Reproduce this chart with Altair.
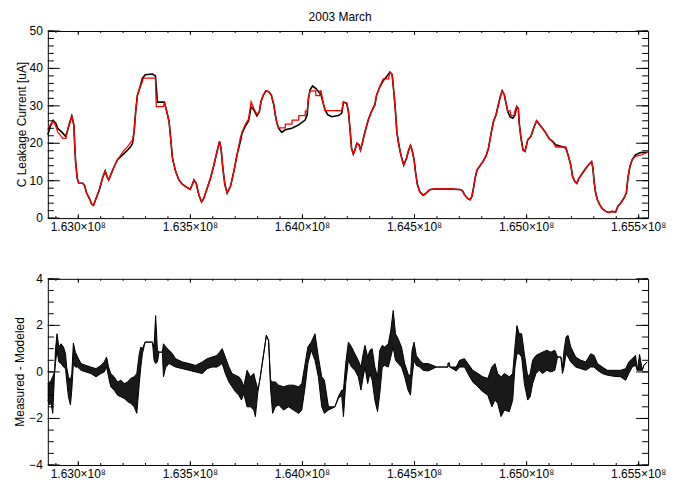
import altair as alt
import pandas as pd

# ---------------- data (time in units of 1e5 s) ----------------
meas_t = [1628.64, 1628.75, 1628.88, 1629.00, 1629.08, 1629.31, 1629.44, 1629.53, 1629.62, 1629.71,
          1629.80, 1629.84, 1629.88, 1629.95, 1630.02, 1630.20, 1630.28, 1630.37, 1630.49, 1630.60,
          1630.68, 1630.77, 1630.94, 1631.08, 1631.20, 1631.28, 1631.35, 1631.45, 1631.60, 1631.75,
          1631.90, 1632.05, 1632.20, 1632.34, 1632.42, 1632.49, 1632.56, 1632.64, 1632.74, 1632.86,
          1632.99, 1633.31, 1633.44, 1633.53, 1633.80, 1633.84, 1633.93, 1634.05, 1634.12, 1634.20,
          1634.34, 1634.49, 1634.64, 1634.79, 1634.99, 1635.08, 1635.16, 1635.26, 1635.38, 1635.50,
          1635.60, 1635.75, 1635.90, 1636.05, 1636.19, 1636.30, 1636.37, 1636.45, 1636.54, 1636.64,
          1636.79, 1636.94, 1637.08, 1637.23, 1637.31, 1637.45, 1637.60, 1637.71, 1637.83, 1637.97,
          1638.08, 1638.15, 1638.24, 1638.37, 1638.49, 1638.61, 1638.72, 1638.79, 1638.86, 1638.94,
          1639.08, 1639.23, 1639.53, 1639.83, 1640.12, 1640.21, 1640.27, 1640.34, 1640.45, 1640.59,
          1640.71, 1640.83, 1640.91, 1641.01, 1641.13, 1641.31, 1641.60, 1641.75, 1641.83, 1641.97,
          1642.05, 1642.12, 1642.19, 1642.27, 1642.34, 1642.43, 1642.52, 1642.59, 1642.67, 1642.79,
          1642.94, 1643.08, 1643.23, 1643.31, 1643.45, 1643.60, 1643.75, 1643.90, 1644.00, 1644.09,
          1644.15, 1644.21, 1644.30, 1644.39, 1644.52, 1644.64, 1644.74, 1644.82, 1644.89, 1644.98,
          1645.05, 1645.13, 1645.23, 1645.38, 1645.53, 1645.67, 1645.90, 1646.19, 1646.64, 1647.08,
          1647.16, 1647.23, 1647.38, 1647.48, 1647.56, 1647.63, 1647.71, 1647.79, 1647.90, 1648.05,
          1648.19, 1648.30, 1648.42, 1648.52, 1648.64, 1648.74, 1648.83, 1648.91, 1649.01, 1649.08,
          1649.16, 1649.26, 1649.38, 1649.48, 1649.56, 1649.63, 1649.67, 1649.75, 1649.84, 1649.93,
          1650.05, 1650.19, 1650.34, 1650.45, 1650.56, 1650.71, 1650.86, 1651.01, 1651.16, 1651.30,
          1651.60, 1651.75, 1651.85, 1651.97, 1652.05, 1652.15, 1652.24, 1652.34, 1652.49, 1652.64,
          1652.79, 1652.90, 1652.96, 1653.01, 1653.08, 1653.16, 1653.26, 1653.38, 1653.53, 1653.67,
          1653.82, 1653.97, 1654.07, 1654.19, 1654.34, 1654.45, 1654.52, 1654.61, 1654.71, 1654.86,
          1655.08, 1655.41]
meas_v = [22.3, 24.5, 26.1, 25.3, 24.0, 22.7, 21.8, 23.6, 25.6, 27.3,
          24.9, 19.6, 15.1, 10.7, 9.3, 9.3, 8.7, 6.7, 5.3, 3.7,
          3.4, 4.9, 7.6, 10.7, 12.6, 11.1, 10.2, 11.6, 13.8, 15.6,
          16.5, 17.3, 18.2, 19.1, 20.0, 23.1, 28.5, 32.9, 34.7, 37.4,
          38.3, 38.5, 38.0, 31.0, 31.0, 31.0, 28.9, 25.8, 21.4, 16.0,
          12.5, 10.2, 9.1, 8.4, 7.7, 8.9, 10.2, 9.3, 6.2, 4.3,
          5.3, 8.0, 10.7, 14.2, 17.8, 20.5, 18.5, 13.3, 8.9, 6.7,
          8.5, 12.5, 16.9, 20.5, 22.8, 24.5, 26.0, 29.8, 28.9, 27.3,
          28.5, 31.1, 32.7, 34.0, 33.8, 32.9, 30.3, 27.6, 25.4, 24.0,
          22.9, 23.6, 24.0, 24.9, 26.2, 27.6, 32.0, 34.3, 35.3, 34.7,
          33.8, 32.9, 31.1, 28.9, 27.6, 27.1, 27.4, 28.0, 31.0, 30.7,
          28.5, 24.0, 18.7, 17.1, 18.2, 20.0, 19.6, 18.2, 20.0, 23.1,
          26.3, 28.5, 30.3, 32.9, 35.1, 36.7, 37.8, 39.0, 38.4, 32.9,
          28.5, 23.1, 19.6, 16.9, 14.2, 16.0, 18.2, 19.4, 18.2, 15.6,
          12.0, 8.9, 7.1, 6.1, 6.7, 7.6, 7.8, 7.8, 7.8, 7.6,
          7.1, 6.2, 5.2, 4.9, 5.8, 8.0, 10.9, 12.9, 13.8, 15.1,
          16.6, 18.7, 22.7, 25.8, 27.7, 30.3, 32.5, 34.0, 32.9, 30.7,
          28.5, 27.1, 26.7, 27.5, 29.8, 29.3, 25.4, 21.4, 18.2, 17.8,
          20.9, 21.8, 24.5, 26.0, 25.1, 24.0, 22.7, 21.2, 20.5, 19.6,
          19.1, 18.7, 16.9, 14.2, 11.1, 9.8, 9.3, 10.7, 12.0, 13.3,
          14.4, 15.1, 13.3, 9.8, 6.7, 4.9, 3.6, 2.5, 1.8, 1.5,
          1.8, 1.6, 3.1, 4.0, 5.3, 6.7, 10.7, 13.8, 15.6, 16.9,
          17.5, 17.6]

model_t = [1628.64, 1628.75, 1628.88, 1629.00, 1629.08, 1629.31, 1629.44, 1629.53, 1629.62, 1629.71,
           1629.80, 1629.84, 1629.88, 1629.95, 1630.02, 1630.20, 1630.28, 1630.37, 1630.49, 1630.60,
           1630.68, 1630.77, 1630.94, 1631.08, 1631.20, 1631.28, 1631.35, 1631.45, 1631.60, 1631.75,
           1631.90, 1632.05, 1632.20, 1632.34, 1632.42, 1632.49, 1632.56, 1632.64, 1632.74, 1632.86,
           1632.90, 1633.44, 1633.48, 1633.80, 1633.84, 1633.93, 1634.05, 1634.12, 1634.20, 1634.34,
           1634.49, 1634.64, 1634.79, 1634.99, 1635.08, 1635.16, 1635.26, 1635.38, 1635.50, 1635.60,
           1635.75, 1635.90, 1636.05, 1636.19, 1636.30, 1636.37, 1636.45, 1636.54, 1636.64, 1636.79,
           1636.94, 1637.08, 1637.23, 1637.31, 1637.45, 1637.60, 1637.71, 1637.83, 1637.97, 1638.08,
           1638.15, 1638.24, 1638.37, 1638.49, 1638.61, 1638.72, 1638.79, 1638.86, 1638.94, 1639.23,
           1639.24, 1639.53, 1639.54, 1639.83, 1639.84, 1640.12, 1640.13, 1640.21, 1640.27, 1640.34,
           1640.59, 1640.60, 1640.77, 1640.78, 1640.83, 1640.91, 1641.01, 1641.75, 1641.83, 1641.97,
           1642.05, 1642.12, 1642.19, 1642.27, 1642.34, 1642.43, 1642.52, 1642.59, 1642.67, 1642.79,
           1642.94, 1643.08, 1643.23, 1643.31, 1643.45, 1643.60, 1643.84, 1643.90, 1644.00, 1644.09,
           1644.15, 1644.21, 1644.30, 1644.39, 1644.52, 1644.64, 1644.74, 1644.82, 1644.89, 1644.98,
           1645.05, 1645.13, 1645.23, 1645.38, 1645.53, 1645.67, 1645.90, 1646.19, 1646.64, 1647.08,
           1647.16, 1647.23, 1647.38, 1647.48, 1647.56, 1647.63, 1647.71, 1647.79, 1647.90, 1648.05,
           1648.19, 1648.30, 1648.42, 1648.52, 1648.64, 1648.74, 1648.83, 1648.91, 1649.01, 1649.08,
           1649.16, 1649.26, 1649.30, 1649.44, 1649.48, 1649.56, 1649.63, 1649.67, 1649.75, 1649.84,
           1649.93, 1650.05, 1650.19, 1650.34, 1650.45, 1650.56, 1650.71, 1650.86, 1651.01, 1651.16,
           1651.30, 1651.75, 1651.85, 1651.97, 1652.05, 1652.15, 1652.24, 1652.34, 1652.49, 1652.64,
           1652.79, 1652.90, 1652.96, 1653.01, 1653.08, 1653.16, 1653.26, 1653.38, 1653.53, 1653.67,
           1653.82, 1653.97, 1654.07, 1654.19, 1654.34, 1654.45, 1654.52, 1654.61, 1654.71, 1654.86,
           1655.08, 1655.41]
model_v = [23.5, 25.0, 26.0, 24.5, 23.0, 21.3, 21.3, 23.7, 25.3, 27.3,
           24.9, 19.6, 15.1, 10.7, 9.3, 9.3, 8.7, 6.7, 5.3, 3.7,
           3.4, 4.9, 7.6, 10.7, 12.6, 11.1, 10.2, 11.6, 13.8, 15.6,
           16.9, 18.2, 19.1, 20.3, 20.8, 23.1, 28.5, 32.9, 34.7, 36.5,
           37.4, 37.4, 29.8, 29.8, 31.0, 28.9, 25.8, 21.4, 16.0, 12.5,
           10.2, 9.1, 8.4, 7.7, 8.9, 10.2, 9.3, 6.2, 4.3, 5.3,
           8.0, 10.7, 14.2, 17.8, 20.5, 18.5, 13.3, 8.9, 6.7, 8.5,
           12.5, 16.9, 21.4, 23.1, 25.0, 26.5, 31.1, 29.3, 27.7, 28.5,
           31.1, 32.7, 34.0, 33.8, 32.9, 30.3, 27.6, 25.4, 24.1, 24.1,
           25.1, 25.1, 26.2, 26.2, 27.4, 27.4, 28.6, 28.6, 32.0, 34.0,
           34.0, 32.7, 32.7, 34.0, 34.0, 31.1, 28.7, 28.7, 31.0, 30.7,
           28.5, 24.0, 18.7, 17.1, 18.2, 20.0, 19.6, 18.2, 20.0, 23.1,
           26.3, 28.5, 30.3, 32.9, 35.1, 37.2, 37.2, 39.0, 38.4, 32.9,
           28.5, 23.1, 19.6, 16.9, 14.2, 16.0, 18.2, 19.4, 18.2, 15.6,
           12.0, 8.9, 7.1, 6.1, 6.7, 7.6, 7.8, 7.8, 7.8, 7.6,
           7.1, 6.2, 5.2, 4.9, 5.8, 8.0, 10.9, 12.9, 13.8, 15.1,
           16.6, 18.7, 22.7, 25.8, 27.7, 30.3, 32.5, 34.0, 32.9, 30.7,
           28.5, 28.7, 27.4, 27.4, 28.7, 29.8, 29.3, 25.4, 21.4, 18.2,
           17.8, 20.9, 21.8, 24.5, 26.0, 25.1, 24.0, 22.7, 21.2, 20.5,
           19.0, 19.0, 16.9, 14.2, 11.1, 9.8, 9.3, 10.7, 12.0, 13.3,
           14.4, 15.1, 13.3, 9.8, 6.7, 4.9, 3.6, 2.5, 1.8, 1.5,
           1.8, 1.6, 3.1, 4.0, 5.3, 6.7, 10.7, 13.8, 15.6, 16.5,
           16.8, 17.6]

res_t = [1628.64, 1628.72, 1628.79, 1628.86, 1628.94, 1628.98, 1629.05, 1629.13, 1629.23, 1629.34,
         1629.43, 1629.48, 1629.56, 1629.65, 1629.71, 1629.78, 1629.87, 1629.97, 1630.12, 1630.34,
         1630.56, 1630.79, 1631.01, 1631.16, 1631.26, 1631.35, 1631.45, 1631.60, 1631.75, 1631.90,
         1632.05, 1632.20, 1632.34, 1632.49, 1632.61, 1632.72, 1632.79, 1632.86, 1632.98, 1633.31,
         1633.38, 1633.45, 1633.53, 1633.60, 1633.75, 1633.80, 1633.90, 1634.05, 1634.20, 1634.34,
         1634.64, 1634.94, 1635.23, 1635.53, 1635.75, 1635.97, 1636.19, 1636.42, 1636.56, 1636.72,
         1636.86, 1637.01, 1637.16, 1637.28, 1637.38, 1637.53, 1637.68, 1637.83, 1637.90, 1638.02,
         1638.12, 1638.27, 1638.39, 1638.49, 1638.58, 1638.67, 1638.79, 1638.94, 1639.16, 1639.38,
         1639.60, 1639.83, 1639.97, 1640.12, 1640.24, 1640.39, 1640.56, 1640.71, 1640.86, 1640.98,
         1641.16, 1641.45, 1641.60, 1641.75, 1641.83, 1641.93, 1642.05, 1642.19, 1642.34, 1642.49,
         1642.61, 1642.71, 1642.79, 1642.91, 1643.01, 1643.11, 1643.23, 1643.35, 1643.45, 1643.56,
         1643.67, 1643.83, 1643.94, 1644.05, 1644.15, 1644.27, 1644.42, 1644.56, 1644.71, 1644.82,
         1644.89, 1644.98, 1645.08, 1645.23, 1645.38, 1645.60, 1645.83, 1645.97, 1646.49, 1646.50,
         1646.56, 1646.57, 1646.86, 1647.01, 1647.23, 1647.38, 1647.60, 1647.83, 1648.05, 1648.27,
         1648.45, 1648.59, 1648.71, 1648.86, 1649.01, 1649.23, 1649.38, 1649.48, 1649.57, 1649.67,
         1649.78, 1649.90, 1650.05, 1650.16, 1650.27, 1650.42, 1650.56, 1650.71, 1650.90, 1651.08,
         1651.26, 1651.38, 1651.53, 1651.60, 1651.67, 1651.76, 1651.85, 1651.97, 1652.19, 1652.42,
         1652.64, 1652.86, 1653.01, 1653.16, 1653.38, 1653.60, 1653.90, 1654.19, 1654.42, 1654.56,
         1654.71, 1654.86, 1654.94, 1655.04, 1655.16, 1655.23, 1655.38]
res_hi = [-0.50, -0.43, -0.36, -0.20, 0.00, 0.93, 1.64, 1.07, 1.21, 1.07,
          0.78, 0.21, -0.21, -0.36, -0.07, 1.24, 0.85, 0.64, 0.36, 0.28,
          0.21, 0.14, 0.28, 0.43, 0.64, 0.21, -0.07, -0.21, -0.43, -0.36,
          -0.50, -0.43, -0.28, -0.21, -0.07, 0.78, 1.07, 1.00, 1.28, 1.28,
          1.07, 2.42, 0.93, 0.85, 0.85, 1.21, 1.07, 0.93, 0.78, 0.57,
          0.43, 0.36, 0.28, 0.43, 0.57, 0.64, 0.71, 1.00, 0.64, 0.21,
          -0.07, -0.14, -0.21, -0.36, -0.64, 0.07, -0.21, -0.07, -0.36, -0.78,
          -0.21, 0.78, 1.57, 1.35, -0.36, -0.43, -0.43, -0.57, -0.64, -0.57,
          -0.57, -0.64, -0.50, 0.36, 1.07, 1.28, 1.64, 0.64, -0.21, -0.36,
          -1.50, -1.50, -1.07, -0.78, -0.78, 0.36, 1.28, 1.07, 0.78, 0.50,
          0.21, 0.78, 1.14, 0.64, 0.93, 1.00, 0.21, -0.21, 0.93, 1.14,
          1.07, 1.21, 1.78, 2.64, 1.64, 1.42, 1.07, 0.36, -0.07, -0.21,
          0.93, 1.28, 0.71, 0.50, 0.36, 0.36, 0.28, 0.21, 0.21, 0.38,
          0.38, 0.21, 0.21, 0.50, 0.57, 0.36, 0.07, -0.07, -0.21, -0.28,
          0.21, 0.36, -0.07, -0.21, -0.07, -0.21, -0.07, 1.07, 1.99, 1.64,
          1.64, 0.78, -0.21, -0.07, 0.50, 0.71, 0.78, 0.85, 0.93, 0.85,
          0.93, 0.64, 0.64, 0.21, 0.93, 1.50, 1.57, 1.07, 0.64, 0.50,
          0.43, 0.78, 0.71, 0.36, 0.21, 0.07, 0.07, 0.07, 0.14, 0.43,
          0.57, 0.71, 0.07, 0.75, 0.07, 0.28, 0.43]
res_lo = [-1.20, -1.42, -1.35, -1.78, -0.07, 0.36, 0.93, 0.43, 0.36, 0.21,
          0.14, -0.36, -1.07, -1.42, -0.78, 0.36, 0.21, 0.21, 0.07, 0.00,
          -0.07, -0.21, -0.07, 0.00, 0.21, -0.21, -0.64, -0.78, -1.00, -1.07,
          -1.14, -1.28, -1.35, -1.50, -1.78, -0.50, 0.21, 0.78, 1.28, 1.28,
          0.50, 0.36, 0.43, 0.85, 0.85, -0.21, 0.21, 0.36, 0.28, 0.21,
          0.14, 0.07, 0.00, -0.07, 0.14, 0.21, 0.21, 0.36, -0.07, -0.43,
          -0.64, -0.85, -1.00, -1.21, -0.93, -1.50, -1.50, -1.64, -1.92, -0.78,
          -0.21, 0.78, 1.57, 1.35, -0.78, -1.78, -1.50, -1.42, -1.64, -1.50,
          -1.64, -1.78, -1.64, -0.64, 0.36, 0.93, 0.50, -0.21, -1.50, -1.78,
          -1.64, -1.50, -1.14, -1.00, -1.92, -0.50, 0.50, 0.21, 0.07, -0.21,
          -0.78, -0.21, 0.21, -0.50, -0.07, -0.36, -1.21, -1.71, -0.93, 0.21,
          0.28, 0.21, 0.64, 1.07, 0.50, 0.36, 0.21, -0.21, -0.78, -1.00,
          -0.21, 0.50, 0.28, 0.21, 0.07, 0.04, 0.14, 0.21, 0.21, 0.38,
          0.38, 0.21, 0.04, 0.21, 0.21, -0.07, -0.43, -0.64, -0.85, -1.00,
          -1.50, -1.21, -1.35, -1.92, -1.64, -1.71, -1.21, 0.21, 0.78, 0.78,
          0.64, -0.50, -1.21, -1.07, -0.50, -0.07, 0.07, -0.07, 0.07, 0.00,
          0.07, 0.64, 0.64, -0.07, 0.21, 0.78, 0.64, 0.43, 0.21, 0.14,
          0.07, 0.21, 0.21, 0.07, -0.07, -0.14, -0.19, -0.21, -0.36, -0.07,
          0.21, 0.28, 0.07, 0.07, 0.07, 0.28, 0.43]

title_text = "2003 March"
top_ytitle = "C Leakage Current [uA]"
bot_ytitle = "Measured  -  Modeled"
x_major = [163000000, 163500000, 164000000, 164500000, 165000000, 165500000]
x_labels = ["1.630×10⁸", "1.635×10⁸", "1.640×10⁸", "1.645×10⁸", "1.650×10⁸", "1.655×10⁸"]
x_minor = [162900000 + 100000 * i for i in range(27)]
top_major = [0, 10, 20, 30, 40, 50]
top_labels = ["0", "10", "20", "30", "40", "50"]
top_minor = [2 * i for i in range(26)]
bot_major = [-4, -2, 0, 2, 4]
bot_labels = ["−4", "−2", "0", "2", "4"]
bot_minor = [-4 + 0.5 * i for i in range(17)]

assert len(meas_t) == len(meas_v)
assert len(model_t) == len(model_v)
assert len(res_t) == len(res_hi) == len(res_lo)

SEC = 1e5
meas_df = pd.DataFrame({"t": [v * SEC for v in meas_t], "v": meas_v})
model_df = pd.DataFrame({"t": [v * SEC for v in model_t], "v": model_v})
res_df = pd.DataFrame({"t": [v * SEC for v in res_t], "hi": res_hi, "lo": res_lo})

FONT = "Liberation Sans"
XDOM = [162864000, 165542000]
W = 603
HT, HB = 188, 187
XSCALE = alt.Scale(domain=XDOM, nice=False, zero=False)
X = alt.X("t:Q", scale=XSCALE, axis=None)


def make_panel(series_layers, yfield, ydom, ymaj, ylabs, ymin, ytitle, tx, H):
    """IDL-style box: inward ticks on all sides, labels and title drawn as text."""
    yscale = alt.Scale(domain=ydom, nice=False, zero=False)
    layers = []
    for ch, f, enc in series_layers:
        layers.append(ch.encode(x=X, y=alt.Y(f"{f}:Q", scale=yscale, axis=None), **enc))
    for vals, ln in ((x_major, 4), (x_minor, 2)):
        r = alt.Chart(pd.DataFrame({"t": vals})).mark_rule(color="black", strokeWidth=1)
        layers.append(r.encode(x=X, y=alt.value(H), y2=alt.value(H - ln)))
        layers.append(r.encode(x=X, y=alt.value(0), y2=alt.value(ln)))
    Y = alt.Y(f"{yfield}:Q", scale=yscale, axis=None)
    for vals, ln in ((ymaj, 12), (ymin, 6)):
        r = alt.Chart(pd.DataFrame({yfield: vals})).mark_rule(color="black", strokeWidth=1)
        layers.append(r.encode(y=Y, x=alt.value(0), x2=alt.value(ln)))
        layers.append(r.encode(y=Y, x=alt.value(W), x2=alt.value(W - ln)))
    txt = dict(font=FONT, fontSize=12, color="black")
    layers.append(alt.Chart(pd.DataFrame({"t": x_major, "lab": x_labels}))
                  .mark_text(align="center", baseline="top", **txt)
                  .encode(x=X, y=alt.value(H + 4), text="lab:N"))
    layers.append(alt.Chart(pd.DataFrame({yfield: ymaj, "lab": ylabs}))
                  .mark_text(align="right", baseline="middle", **txt)
                  .encode(y=Y, x=alt.value(-5), text="lab:N"))
    layers.append(alt.Chart(pd.DataFrame({"lab": [ytitle]}))
                  .mark_text(align="center", baseline="middle", angle=270, **txt)
                  .encode(x=alt.value(tx), y=alt.value(H / 2), text="lab:N"))
    return alt.layer(*layers).properties(width=W, height=H)


top = make_panel(
    [(alt.Chart(meas_df).mark_line(color="black", strokeWidth=1.6), "v", {}),
     (alt.Chart(model_df).mark_line(color="#ff0000", strokeWidth=1.3), "v", {})],
    "v", [0, 50], top_major, top_labels, top_minor, top_ytitle, -26, HT)

bottom = make_panel(
    [(alt.Chart(res_df).mark_area(color="black", opacity=0.9), "lo", {"y2": "hi:Q"}),
     (alt.Chart(res_df).mark_line(color="black", strokeWidth=1), "hi", {}),
     (alt.Chart(res_df).mark_line(color="black", strokeWidth=1), "lo", {})],
    "r", [-4, 4], bot_major, bot_labels, bot_minor, bot_ytitle, -28, HB)

chart = alt.vconcat(top, bottom, spacing=38).properties(
    title=alt.TitleParams(title_text, font=FONT, fontSize=12, fontWeight="normal",
                          color="black", anchor="middle", offset=1),
    padding={"left": 5, "top": 1, "right": 0, "bottom": 0},
    background="white",
).configure_view(stroke="black", strokeWidth=1)

chart.save("out.html", embed_options={"renderer": "svg", "actions": False})
